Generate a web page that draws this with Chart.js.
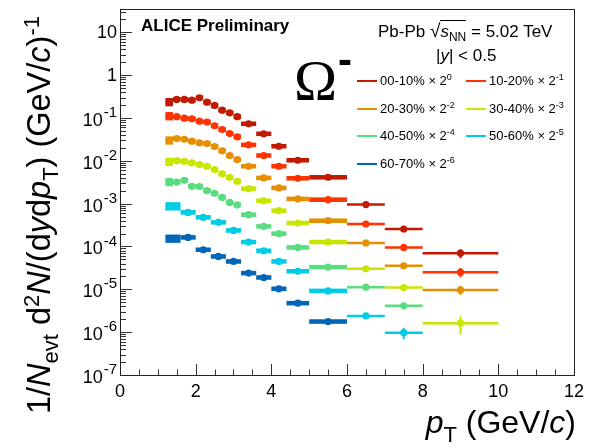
<!DOCTYPE html>
<html>
<head>
<meta charset="utf-8">
<script src="https://cdn.jsdelivr.net/npm/chart.js@4.4.1/dist/chart.umd.min.js"></script>
<style>
  html, body { margin: 0; padding: 0; background: #fff; }
  #wrap { position: relative; width: 590px; height: 448px; overflow: hidden; font-family: 'Liberation Sans', Arial, sans-serif; color: #000; }
  canvas { position: absolute; left: 0; top: 0; }
  .ov { position: absolute; white-space: nowrap; line-height: 1; }
  .leg { position: absolute; font-size: 13px; white-space: nowrap; line-height: 1; }
  .leg .ln { position: absolute; left: 0; top: 6px; width: 20px; height: 2px; }
  .leg .tx { position: absolute; left: 23px; top: 0; }
  .leg sup { font-size: 9px; vertical-align: 0; position: relative; top: -5px; }
</style>
</head>
<body>
<div id="wrap">
  <canvas id="c" width="590" height="448"></canvas>
</div>
<script>
// ---------------- data ----------------
const ptLowFine  = [1.2, 1.4, 1.6, 1.8, 2.0, 2.2, 2.4, 2.6, 2.8, 3.0, 3.2, 3.6, 4.0, 4.4, 5.0, 6.0, 7.0, 8.0];
const ptHighFine = [1.4, 1.6, 1.8, 2.0, 2.2, 2.4, 2.6, 2.8, 3.0, 3.2, 3.6, 4.0, 4.4, 5.0, 6.0, 7.0, 8.0, 10.0];
const ptLowCoarse  = [1.2, 1.6, 2.0, 2.4, 2.8, 3.2, 3.6, 4.0, 4.4, 5.0, 6.0, 7.0];
const ptHighCoarse = [1.6, 2.0, 2.4, 2.8, 3.2, 3.6, 4.0, 4.4, 5.0, 6.0, 7.0, 8.0];

const centralityLabels = ['00-10%', '10-20%', '20-30%', '30-40%', '40-50%', '50-60%', '60-70%'];
const scaleExponents   = [0, -1, -2, -3, -4, -5, -6];
const seriesColors     = ['#c01a00', '#ff3300', '#e68f00', '#c8e600', '#5cdc80', '#00cce6', '#0066b8'];

const y0010 = [0.234, 0.271, 0.271, 0.261, 0.297, 0.234, 0.196, 0.152, 0.132, 0.107, 0.0731, 0.0427, 0.0219, 0.0103, 0.00412, 9.5e-4, 2.56e-4, 7.0e-5];
const y1020 = [0.110, 0.107, 0.0989, 0.0957, 0.0841, 0.0806, 0.0658, 0.0538, 0.0433, 0.0363, 0.0236, 0.0133, 0.00746, 0.00391, 0.00124, 3.35e-4, 9.5e-5, 2.52e-5];
const y2030 = [0.0298, 0.0331, 0.0319, 0.0287, 0.0263, 0.0253, 0.0216, 0.0171, 0.0133, 0.0107, 0.00746, 0.00399, 0.00233, 0.00129, 4.0e-4, 1.21e-4, 3.55e-5, 9.7e-6];
const y3040 = [0.00944, 0.0101, 0.00977, 0.00896, 0.00817, 0.00746, 0.00624, 0.00496, 0.00412, 0.00333, 0.00224, 0.00117, 6.85e-4, 3.53e-4, 1.27e-4, 3.02e-5, 1.10e-5, 1.62e-6];
const y4050 = [0.00319, 0.00319, 0.00351, 0.00254, 0.00250, 0.00201, 0.00174, 0.00140, 0.00107, 9.33e-4, 5.53e-4, 2.94e-4, 1.99e-4, 9.5e-5, 3.30e-5, 1.12e-5, 4.11e-6];
const y5060 = [8.65e-4, 6.25e-4, 4.79e-4, 3.66e-4, 2.37e-4, 1.27e-4, 7.96e-5, 4.47e-5, 2.64e-5, 9.2e-6, 2.40e-6, 9.75e-7];
const y6070 = [1.52e-4, 1.63e-4, 8.4e-5, 5.85e-5, 4.47e-5, 2.39e-5, 1.89e-5, 1.03e-5, 4.75e-6, 1.77e-6];

// relative statistical uncertainties (only visible where large)
const stat0010 = [0.02, 0.02, 0.02, 0.02, 0.02, 0.02, 0.02, 0.02, 0.02, 0.02, 0.03, 0.03, 0.04, 0.05, 0.06, 0.10, 0.14, 0.24];
const stat1020 = [0.02, 0.02, 0.02, 0.02, 0.02, 0.02, 0.02, 0.02, 0.02, 0.02, 0.03, 0.03, 0.04, 0.05, 0.06, 0.10, 0.14, 0.24];
const stat2030 = [0.02, 0.02, 0.02, 0.02, 0.02, 0.02, 0.02, 0.02, 0.02, 0.02, 0.03, 0.03, 0.04, 0.05, 0.06, 0.10, 0.14, 0.24];
const stat3040 = [0.02, 0.02, 0.02, 0.02, 0.02, 0.02, 0.02, 0.02, 0.02, 0.02, 0.03, 0.03, 0.04, 0.05, 0.06, 0.10, 0.15, 0.45];
const stat4050 = [0.02, 0.02, 0.02, 0.02, 0.02, 0.02, 0.02, 0.02, 0.02, 0.02, 0.03, 0.03, 0.04, 0.05, 0.07, 0.12, 0.18];
const stat5060 = [0.03, 0.03, 0.03, 0.03, 0.03, 0.04, 0.04, 0.05, 0.06, 0.08, 0.15, 0.30];
const stat6070 = [0.04, 0.04, 0.04, 0.05, 0.05, 0.06, 0.07, 0.08, 0.10, 0.14];

const yTickExponents = [-7, -6, -5, -4, -3, -2, -1, 0, 1];
const xTickValues = [0, 2, 4, 6, 8, 10, 12];

// --------------- styles ---------------
const SYS_REL = 0.13, SYS_REL_FIRST = 0.25, LINE_BIN_FROM = 6;
const FONT = "'Liberation Sans', Arial, sans-serif";

const seriesY    = [y0010, y1020, y2030, y3040, y4050, y5060, y6070];
const seriesStat = [stat0010, stat1020, stat2030, stat3040, stat4050, stat5060, stat6070];
const seriesLo   = [ptLowFine, ptLowFine, ptLowFine, ptLowFine, ptLowFine, ptLowCoarse, ptLowCoarse];
const seriesHi   = [ptHighFine, ptHighFine, ptHighFine, ptHighFine, ptHighFine, ptHighCoarse, ptHighCoarse];

const datasets = seriesY.map((vals, s) => ({
  label: centralityLabels[s],
  data: vals.map((v, i) => ({ x: (seriesLo[s][i] + seriesHi[s][i]) / 2, y: v })),
  binLo: seriesLo[s], binHi: seriesHi[s], stat: seriesStat[s],
  backgroundColor: seriesColors[s], borderColor: seriesColors[s],
  pointRadius: 3.6, pointBorderWidth: 0, pointStyle: 'circle', showLine: false
}));

const errorPlugin = {
  id: 'errors',
  beforeDatasetsDraw(chart) {
    const { ctx, chartArea: a } = chart;
    const xs = chart.scales.x, ys = chart.scales.y;
    ctx.save();
    ctx.beginPath(); ctx.rect(a.left, a.top, a.right - a.left, a.bottom - a.top); ctx.clip();
    chart.data.datasets.forEach(ds => {
      ctx.fillStyle = ds.backgroundColor; ctx.strokeStyle = ds.backgroundColor;
      ds.data.forEach((p, i) => {
        const xl = xs.getPixelForValue(ds.binLo[i]), xr = xs.getPixelForValue(ds.binHi[i]);
        const yc = ys.getPixelForValue(p.y);
        if (ds.binLo[i] < LINE_BIN_FROM) {
          const sr = i === 0 ? SYS_REL_FIRST : SYS_REL;
          const yt = ys.getPixelForValue(p.y * (1 + sr)), yb = ys.getPixelForValue(p.y / (1 + sr));
          ctx.fillRect(xl, yt, xr - xl, yb - yt);
        } else {
          ctx.lineWidth = 2.5;
          ctx.beginPath(); ctx.moveTo(xl, yc); ctx.lineTo(xr, yc); ctx.stroke();
        }
        const st = ds.stat[i];
        ctx.lineWidth = 2;
        ctx.beginPath();
        ctx.moveTo(xs.getPixelForValue(p.x), ys.getPixelForValue(p.y * (1 + st)));
        ctx.lineTo(xs.getPixelForValue(p.x), ys.getPixelForValue(p.y * (1 - st)));
        ctx.stroke();
      });
    });
    ctx.restore();
  }
};

const framePlugin = {
  id: 'frame',
  afterDraw(chart) {
    const { ctx, chartArea: a } = chart;
    const xs = chart.scales.x, ys = chart.scales.y;
    ctx.save();
    // ticks
    ctx.strokeStyle = '#333'; ctx.lineWidth = 1;
    ctx.beginPath();
    for (let v = 0; v <= 12.001; v += 0.5) {
      const px = Math.round(xs.getPixelForValue(v)) + 0.5;
      const len = Math.abs(v / 2 - Math.round(v / 2)) < 1e-6 ? 11 : 5.5;
      ctx.moveTo(px, a.bottom); ctx.lineTo(px, a.bottom - len);
    }
    for (let e = -7; e <= 1; e++) {
      for (let k = 1; k <= 9; k++) {
        const v = k * Math.pow(10, e);
        if (v > ys.max) break;
        const py = Math.round(ys.getPixelForValue(v)) + 0.5;
        const len = k === 1 ? 12 : 6;
        ctx.moveTo(a.left, py); ctx.lineTo(a.left + len, py);
      }
    }
    ctx.stroke();
    // frame
    ctx.strokeStyle = '#222';
    ctx.strokeRect(Math.round(a.left) + 0.5, Math.round(a.top) + 0.5, Math.round(a.right - a.left), Math.round(a.bottom - a.top));
    // y tick labels with superscripts
    ctx.fillStyle = '#000';
    const right = a.left - 3;
    yTickExponents.forEach(e => {
      const py = ys.getPixelForValue(Math.pow(10, e));
      if (e === 0 || e === 1) {
        ctx.font = '18px ' + FONT; ctx.textAlign = 'right'; ctx.textBaseline = 'middle';
        ctx.fillText(e === 0 ? '1' : '10', right, py + 1);
      } else {
        const sup = '-' + Math.abs(e);
        ctx.font = '15px ' + FONT; ctx.textAlign = 'right'; ctx.textBaseline = 'middle';
        const w = ctx.measureText(sup).width;
        ctx.fillText(sup, right, py - 5);
        ctx.font = '18px ' + FONT;
        ctx.fillText('10', right - w - 1, py + 3);
      }
    });
    ctx.restore();
  }
};

new Chart(document.getElementById('c'), {
  type: 'scatter',
  data: { datasets },
  options: {
    responsive: false, animation: false, devicePixelRatio: 1,
    layout: { padding: { left: 0, right: 14, top: 9, bottom: 0 } },
    plugins: { legend: { display: false }, tooltip: { enabled: false } },
    scales: {
      x: {
        type: 'linear', min: 0, max: 12,
        afterBuildTicks: s => { s.ticks = xTickValues.map(v => ({ value: v })); },
        ticks: { font: { family: FONT, size: 18 }, color: '#000', padding: 6, maxRotation: 0, autoSkip: false },
        grid: { display: false, drawTicks: false }, border: { display: false },
        afterFit: s => { s.height = 73; }
      },
      y: {
        type: 'logarithmic', min: 1e-7, max: 35,
        ticks: { display: false }, grid: { display: false }, border: { display: false },
        afterFit: s => { s.width = 120; }
      }
    }
  },
  plugins: [errorPlugin, framePlugin]
});

// --------------- overlays: titles, annotations, legend ---------------
const wrap = document.getElementById('wrap');
function addDiv(html, css) {
  const d = document.createElement('div'); d.className = 'ov'; d.innerHTML = html;
  Object.assign(d.style, css); wrap.appendChild(d); return d;
}
addDiv('<i>p</i><sub style="font-size:22px;vertical-align:0;position:relative;top:9px">T</sub> (GeV/<i>c</i>)',
  { right: '14px', top: '406px', fontSize: '32px' });
addDiv('1/<i>N</i><sub style="font-size:22px;vertical-align:0;position:relative;top:8px">evt</sub> d<sup style="font-size:22px;vertical-align:0;position:relative;top:-11px">2</sup><i>N</i>/(d<i>y</i>d<i>p</i><sub style="font-size:22px;vertical-align:0;position:relative;top:8px">T</sub>) (GeV/<i>c</i>)<sup style="font-size:22px;vertical-align:0;position:relative;top:-11px">-1</sup>',
  { left: '0px', top: '0px', fontSize: '32.5px', transformOrigin: '0 0', transform: 'translate(23px, 414px) rotate(-90deg)' });
addDiv('<b>ALICE Preliminary</b>', { left: '141px', top: '17px', fontSize: '17px' });
addDiv('Pb-Pb <span style="font-size:19px">&#8730;</span><span style="border-top:1px solid #000;padding-top:1px"><i>s</i><sub style="font-size:12px;vertical-align:0;position:relative;top:4px">NN</sub></span> = 5.02 TeV',
  { left: '378px', top: '21px', fontSize: '17px' });
addDiv('|<i>y</i>| &lt; 0.5', { left: '436px', top: '47px', fontSize: '17px' });
addDiv('<span style="font-family:\'Liberation Serif\',serif;font-size:58px">&#937;</span><span style="font-weight:bold;font-size:42px;position:relative;top:-26px;left:1px">-</span>',
  { left: '294px', top: '52px' });

const legendRows = [80, 108, 135, 163], legendCols = [357, 466];
centralityLabels.forEach((lab, s) => {
  const d = document.createElement('div'); d.className = 'leg';
  d.style.left = legendCols[s % 2] + 'px'; d.style.top = (legendRows[Math.floor(s / 2)] - 6) + 'px';
  d.innerHTML = '<div class="ln" style="background:' + seriesColors[s] + '"></div><div class="tx">' + lab +
    ' &#215; 2<sup>' + scaleExponents[s] + '</sup></div>';
  wrap.appendChild(d);
});
</script>
</body>
</html>
